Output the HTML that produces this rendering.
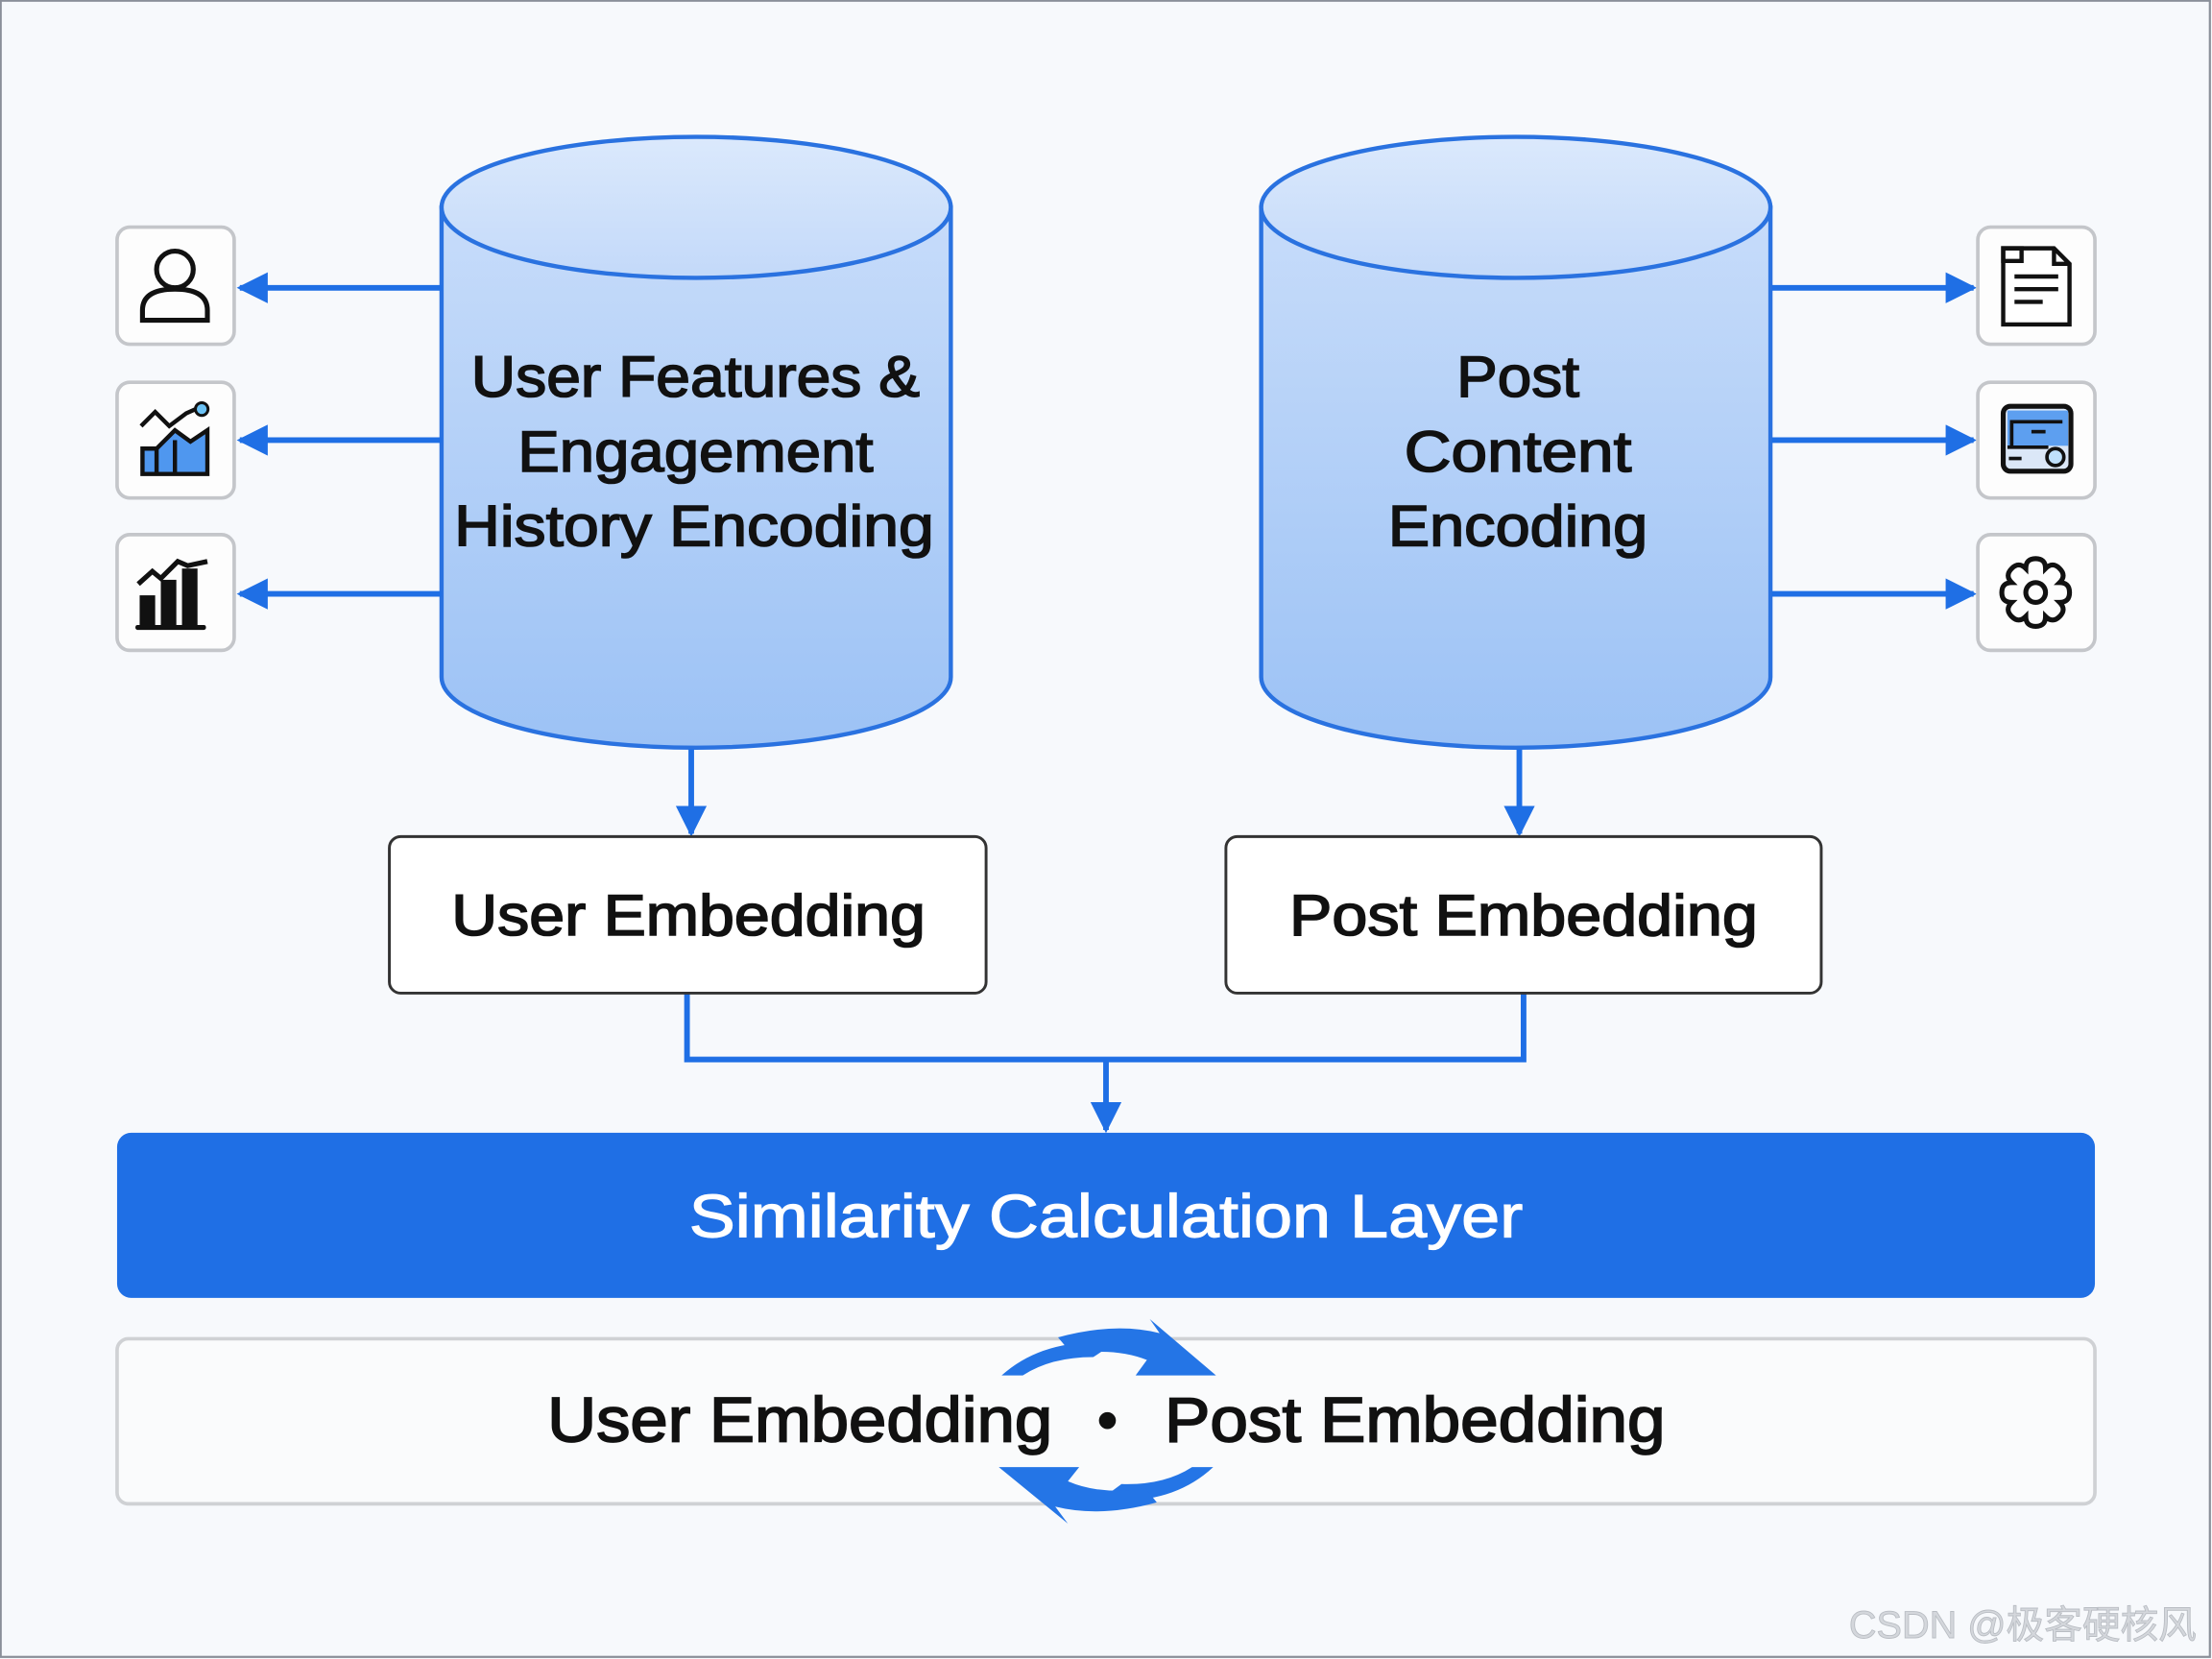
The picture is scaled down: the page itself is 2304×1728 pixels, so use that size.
<!DOCTYPE html>
<html><head><meta charset="utf-8"><style>
html,body{margin:0;padding:0;background:#f7f9fc;}
svg{display:block;}
</style></head><body>
<svg width="2304" height="1728" viewBox="0 0 1568 1176" xmlns="http://www.w3.org/2000/svg" font-family="Liberation Sans, Noto Sans CJK SC, sans-serif">
<defs>
<linearGradient id="cyl" x1="0" y1="0" x2="0" y2="1">
<stop offset="0" stop-color="#c7dcfa"/><stop offset="1" stop-color="#9cc2f5"/>
</linearGradient>
<linearGradient id="top" x1="0" y1="0" x2="0" y2="1">
<stop offset="0" stop-color="#dbe9fc"/><stop offset="1" stop-color="#c3d9f9"/>
</linearGradient>
<marker id="ah" viewBox="0 0 10 10" refX="9" refY="5" markerWidth="5.5" markerHeight="5.5" orient="auto">
<path d="M0,0 L10,5 L0,10 z" fill="#1f6fe5"/>
</marker>
</defs>
<rect x="0" y="0" width="1568" height="1176" fill="#f7f9fc"/>
<rect x="0.5" y="0.5" width="1566" height="1174" fill="none" stroke="#8a8f99" stroke-width="1.5"/>

<g stroke="#2a72e0" stroke-width="3">
<path d="M313,147 L313,480 A180.5,50 0 0 0 674,480 L674,147 Z" fill="url(#cyl)"/>
<ellipse cx="493.5" cy="147" rx="180.5" ry="50" fill="url(#top)"/>
<path d="M894,147 L894,480 A180.5,50 0 0 0 1255,480 L1255,147 Z" fill="url(#cyl)"/>
<ellipse cx="1074.5" cy="147" rx="180.5" ry="50" fill="url(#top)"/>
</g>
<g font-size="41" fill="#111" stroke="#111" stroke-width="1.1" text-anchor="middle" lengthAdjust="spacingAndGlyphs">
<text x="493" y="281" textLength="318" lengthAdjust="spacingAndGlyphs">User Features &amp;</text>
<text x="493" y="334" textLength="252" lengthAdjust="spacingAndGlyphs">Engagement</text>
<text x="492" y="387" textLength="340" lengthAdjust="spacingAndGlyphs">History Encoding</text>
<text x="1076" y="281" textLength="87" lengthAdjust="spacingAndGlyphs">Post</text>
<text x="1076" y="334" textLength="161" lengthAdjust="spacingAndGlyphs">Content</text>
<text x="1076" y="387" textLength="184" lengthAdjust="spacingAndGlyphs">Encoding</text>
</g>

<g stroke="#1f6fe5" stroke-width="4" marker-end="url(#ah)">
<line x1="313" y1="204" x2="170" y2="204"/>
<line x1="313" y1="312" x2="170" y2="312"/>
<line x1="313" y1="421" x2="170" y2="421"/>
<line x1="1256" y1="204" x2="1399" y2="204"/>
<line x1="1256" y1="312" x2="1399" y2="312"/>
<line x1="1256" y1="421" x2="1399" y2="421"/>
<line x1="490" y1="531" x2="490" y2="591"/>
<line x1="1077" y1="531" x2="1077" y2="591"/>
<line x1="784" y1="751" x2="784" y2="801"/>
</g>
<path d="M487,704 L487,751 L1080,751 L1080,704" fill="none" stroke="#1f6fe5" stroke-width="4"/>

<g fill="#fdfdfd" stroke="#c4c6ca" stroke-width="2.5">
<rect x="83" y="161" width="83" height="83" rx="9"/>
<rect x="83" y="271" width="83" height="82" rx="9"/>
<rect x="83" y="379" width="83" height="82" rx="9"/>
<rect x="1402" y="161" width="83" height="83" rx="9"/>
<rect x="1402" y="271" width="83" height="82" rx="9"/>
<rect x="1402" y="379" width="83" height="82" rx="9"/>
</g>
<g fill="none" stroke="#111" stroke-width="3.5">
<circle cx="124" cy="191" r="13"/>
<path d="M101,227 L101,220 Q101,205 124,205 Q147,205 147,220 L147,227 Z"/>
</g>
<g>
<path d="M101,318 L101,336 L147,336 L147,305 L135,313 L124,305 L111,318 Z" fill="#4f97ef" stroke="#111" stroke-width="3"/>
<line x1="111" y1="318" x2="111" y2="336" stroke="#111" stroke-width="3"/>
<line x1="124" y1="312" x2="124" y2="336" stroke="#111" stroke-width="3"/>
<path d="M100,302 L110,292 L120,302 L132,293 L141,289" fill="none" stroke="#111" stroke-width="3"/>
<circle cx="143" cy="290" r="4.5" fill="#6cc2f5" stroke="#111" stroke-width="2"/>
</g>
<g fill="#111">
<rect x="99" y="422" width="11" height="22"/>
<rect x="114" y="411" width="11" height="33"/>
<rect x="129" y="403" width="11" height="41"/>
<rect x="96" y="443" width="50" height="3.5" rx="1.5"/>
<path d="M98,414 L108,405 L114,410 L126,398 L133,401 L147,398" fill="none" stroke="#111" stroke-width="3.5"/>
</g>
<g fill="none" stroke="#111" stroke-width="3">
<path d="M1420,176 L1456,176 L1467,187 L1467,230 L1420,230 Z" fill="#fff"/>
<path d="M1420,176 L1433,176 L1433,185 L1420,185 Z"/>
<path d="M1456,176 L1456,187 L1467,187"/>
<line x1="1428" y1="196" x2="1459" y2="196"/>
<line x1="1428" y1="205" x2="1459" y2="205"/>
<line x1="1428" y1="214" x2="1448" y2="214"/>
</g>
<g>
<rect x="1420" y="288" width="48" height="46" rx="5" fill="#dbe7f7" stroke="#111" stroke-width="3.5"/>
<rect x="1423" y="291" width="43" height="25" fill="#5d9ff0"/>
<path d="M1426,316 L1426,299 L1462,299" fill="none" stroke="#111" stroke-width="2.5"/>
<line x1="1423" y1="317" x2="1452" y2="317" stroke="#111" stroke-width="2.5"/>
<line x1="1440" y1="306" x2="1450" y2="306" stroke="#111" stroke-width="2.5"/>
<line x1="1424" y1="325" x2="1433" y2="325" stroke="#111" stroke-width="2.5"/>
<circle cx="1457" cy="324" r="6" fill="#bfe0fb" stroke="#111" stroke-width="2.5"/>
</g>
<g fill="none" stroke="#111" stroke-width="3.5">
<path d="M1443,396 q7,0 7,7 q5,-5 10,0 q5,5 0,10 q7,0 7,7 q0,7 -7,7 q5,5 0,10 q-5,5 -10,0 q0,7 -7,7 q-7,0 -7,-7 q-5,5 -10,0 q-5,-5 0,-10 q-7,0 -7,-7 q0,-7 7,-7 q-5,-5 0,-10 q5,-5 10,0 q0,-7 7,-7 z"/>
<circle cx="1443" cy="420" r="7"/>
</g>

<g fill="#fff" stroke="#333" stroke-width="2">
<rect x="276" y="593" width="423" height="111" rx="8"/>
<rect x="869" y="593" width="422" height="111" rx="8"/>
</g>
<g font-size="41" fill="#111" stroke="#111" stroke-width="1.1" text-anchor="middle">
<text x="488" y="663" textLength="336" lengthAdjust="spacingAndGlyphs">User Embedding</text>
<text x="1080" y="663" textLength="332" lengthAdjust="spacingAndGlyphs">Post Embedding</text>
</g>

<rect x="83" y="803" width="1402" height="117" rx="10" fill="#1f6fe5"/>
<text x="784" y="877" font-size="43" fill="#fff" stroke="#fff" stroke-width="0.8" text-anchor="middle" textLength="591" lengthAdjust="spacingAndGlyphs">Similarity Calculation Layer</text>

<rect x="83" y="949" width="1402" height="117" rx="8" fill="#fafbfc" stroke="#cfd1d4" stroke-width="2.5"/>
<g fill="#2475e6">
<path d="M710,975 Q740,948 790,952 L775,962 Q745,962 725,975 Z"/>
<path d="M750,948 Q790,937 822,945 L815,935 L862,975 L805,975 L813,964 Q790,955 760,960 Z"/>
<path d="M860,1040 Q830,1068 780,1063 L795,1052 Q825,1053 845,1040 Z"/>
<path d="M820,1065 Q780,1076 748,1068 L757,1080 L708,1040 L765,1040 L757,1050 Q780,1060 812,1055 Z"/>
</g>
<g font-size="45" fill="#111" stroke="#111" stroke-width="1.2" text-anchor="middle">
<text x="567" y="1022" textLength="358" lengthAdjust="spacingAndGlyphs">User Embedding</text>
<text x="1003" y="1022" textLength="355" lengthAdjust="spacingAndGlyphs">Post Embedding</text>
</g>
<circle cx="785" cy="1007" r="6" fill="#111"/>

<text x="1557" y="1161" font-size="27" fill="#d4d7dc" stroke="#b9bdc3" stroke-width="0.6" text-anchor="end" font-family="Liberation Sans, Noto Sans CJK SC, sans-serif">CSDN @极客硬核风</text>
</svg>
</body></html>
